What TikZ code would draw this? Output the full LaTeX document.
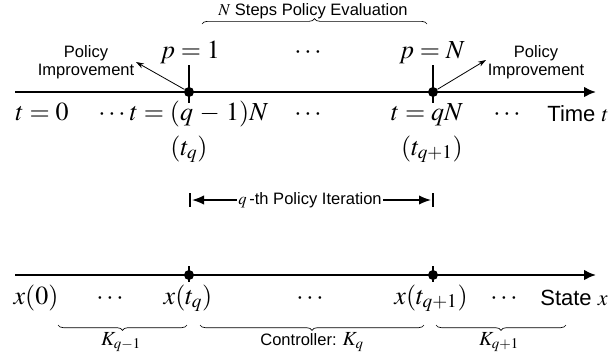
\documentclass[tikz,border=0pt]{standalone}
\usepackage{mathptmx}
\usepackage[no-math]{fontspec}
\setmainfont{Liberation Sans}
\usetikzlibrary{arrows.meta, decorations.pathreplacing}

\begin{document}
\begin{tikzpicture}[x=0.75pt, y=-0.75pt]
	% Styles
	\tikzstyle{axis} = [line width=1.6pt, -{Latex[length=9pt,width=8pt]}]
	\tikzstyle{tick} = [line width=1.5pt]
	\tikzstyle{dot} = [circle, fill=black, inner sep=0pt, minimum size=7.5pt]
	\tikzstyle{mlbl} = [anchor=base, inner sep=0pt, font=\fontsize{19.5}{22}\selectfont]
	\tikzstyle{axlbl} = [anchor=base, inner sep=0pt, font=\fontsize{16.5}{19}\selectfont]
	\tikzstyle{lbl} = [anchor=base, inner sep=0pt, font=\fontsize{12.4}{14}\selectfont]
	\tikzstyle{note} = [align=center, inner sep=0pt, font=\fontsize{12.4}{13.5}\selectfont]
	\tikzstyle{ptr} = [line width=0.6pt, -{Stealth[length=6pt,width=4pt]}]
	\tikzstyle{span} = [line width=1.1pt, -{Latex[length=9pt,width=7pt]}]
	\tikzstyle{brc} = [decorate, decoration={brace, amplitude=4pt}, line width=0.5pt]

	\useasboundingbox (0,0) rectangle (614,362);

	% Time axis
	\coordinate (ts) at (15,92);
	\coordinate (te) at (596,92);
	\draw [axis] (ts) -- (te);
	\node (d1) [dot] at (189,92) {};
	\node (d2) [dot] at (433,92) {};
	\coordinate (k1a) at (189,65); \coordinate (k1b) at (189,103);
	\coordinate (k2a) at (433,65); \coordinate (k2b) at (433,103);
	\draw [tick] (k1a) -- (k1b);
	\draw [tick] (k2a) -- (k2b);

	\node (p1) [mlbl] at (190,58) {$p=1$};
	\node (pdots) [mlbl] at (308,58) {$\cdots$};
	\node (pN) [mlbl] at (432,58) {$p=N$};
	\node (t0) [mlbl] at (42,120) {$t=0$};
	\node (tdl) [mlbl] at (112,120) {$\cdots$};
	\node (tq) [mlbl] at (199,120) {$t=(q\,-\,1)N$};
	\node (tdm) [mlbl] at (308,120) {$\cdots$};
	\node (tqn) [mlbl] at (427,120) {$t=qN$};
	\node (tdr) [mlbl] at (507,120) {$\cdots$};
	\node (time) [axlbl] at (578,121) {Time $t$};
	\node (tq1) [mlbl] at (189,155) {$(t_q)$};
	\node (tq2) [mlbl] at (432,155) {$(t_{q+1})$};

	\node (eval) [lbl] at (313,15) {$N$ Steps Policy Evaluation};
	\coordinate (ba) at (202,24); \coordinate (bb) at (427,24);
	\draw [brc] (ba) -- (bb);

	\node (impl) [note] at (86,62) {Policy\\Improvement};
	\node (impr) [note] at (536,62) {Policy\\Improvement};
	\coordinate (al) at (136,62);
	\coordinate (ar) at (486,60);
	\draw [ptr] (d1) -- (al);
	\draw [ptr] (d2) -- (ar);

	% Policy iteration span
	\node (iter) [lbl, anchor=center, inner sep=1pt] at (310,200) {$q$\,-th Policy Iteration};
	\coordinate (la) at (190,193); \coordinate (lb) at (190,207);
	\coordinate (ra) at (433,193); \coordinate (rb) at (433,207);
	\coordinate (lt) at (192,200); \coordinate (rt) at (431,200);
	\draw [tick, line width=1.2pt] (la) -- (lb);
	\draw [tick, line width=1.2pt] (ra) -- (rb);
	\draw [span] (iter.west) -- (lt);
	\draw [span] (iter.east) -- (rt);

	% State axis
	\coordinate (ss) at (15,275);
	\coordinate (se) at (596,275);
	\draw [axis] (ss) -- (se);
	\node (s1) [dot] at (189,275) {};
	\node (s2) [dot] at (433,275) {};
	\coordinate (m1a) at (189,266); \coordinate (m1b) at (189,282);
	\coordinate (m2a) at (433,266); \coordinate (m2b) at (433,282);
	\draw [tick] (m1a) -- (m1b);
	\draw [tick] (m2a) -- (m2b);

	\node (x0) [mlbl] at (36,304) {$x(0)$};
	\node (xdl) [mlbl] at (110,304) {$\cdots$};
	\node (xq) [mlbl] at (188,304) {$x(t_q)$};
	\node (xdm) [mlbl] at (310,304) {$\cdots$};
	\node (xq1) [mlbl] at (431,304) {$x(t_{q+1})$};
	\node (xdr) [mlbl] at (504,304) {$\cdots$};
	\node (state) [axlbl] at (574,305) {State $x$};

	% Controller braces
	\coordinate (c1a) at (58,325); \coordinate (c1b) at (187,325);
	\coordinate (c2a) at (200,325); \coordinate (c2b) at (424,325);
	\coordinate (c3a) at (436,325); \coordinate (c3b) at (566,325);
	\draw [brc] (c1b) -- (c1a);
	\draw [brc] (c2b) -- (c2a);
	\draw [brc] (c3b) -- (c3a);
	\node (kl) [lbl, font=\fontsize{15}{17}\selectfont] at (121,345) {$K_{q-1}$};
	\node (kc) [lbl] at (312,345) {Controller: {\fontsize{15}{17}\selectfont$K_q$}};
	\node (kr) [lbl, font=\fontsize{15}{17}\selectfont] at (499,345) {$K_{q+1}$};

\end{tikzpicture}
\end{document}
